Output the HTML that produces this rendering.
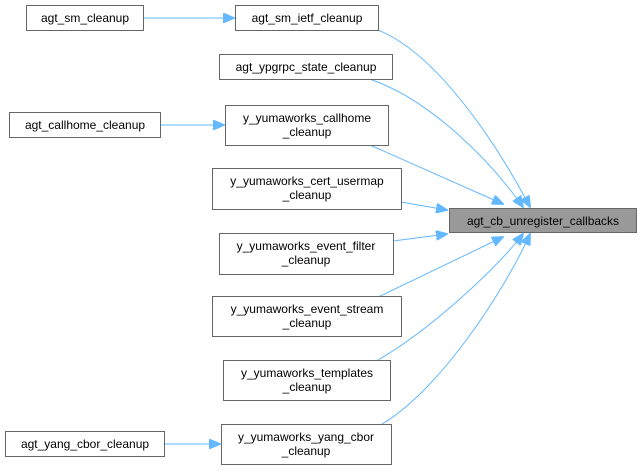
<!DOCTYPE html>
<html><head><style>body{margin:0;background:#fff}</style></head><body>
<svg width="641" height="470" xmlns="http://www.w3.org/2000/svg" font-family="Liberation Sans, sans-serif" font-size="12">
<defs><marker id="a" markerWidth="12" markerHeight="10" refX="11" refY="5" orient="auto" markerUnits="userSpaceOnUse"><path d="M0,0 L12,5 L0,10 z" fill="#63b8ff" stroke="#63b8ff"/></marker></defs>
<g fill="none" stroke="#63b8ff" stroke-width="1">
<path d="M143,18 L234,18" marker-end="url(#a)"/>
<path d="M160,125 L224,125" marker-end="url(#a)"/>
<path d="M164,444 L220,444" marker-end="url(#a)"/>
<path d="M378,30 C440,55 500,150 530,207" marker-end="url(#a)"/>
<path d="M372,80 C430,100 490,160 523,207" marker-end="url(#a)"/>
<path d="M370,145 L503,204" marker-end="url(#a)"/>
<path d="M401,202 L447,210" marker-end="url(#a)"/>
<path d="M393,241 L447,234" marker-end="url(#a)"/>
<path d="M372,300 L503,237" marker-end="url(#a)"/>
<path d="M378,360 C430,330 495,270 523,234" marker-end="url(#a)"/>
<path d="M382,424 C440,390 505,290 530,234" marker-end="url(#a)"/>
</g>
<g stroke="#666" stroke-width="1" fill="#fff">
<rect x="26.5" y="5.5" width="117" height="25"/>
<rect x="235.5" y="5.5" width="143" height="25"/>
<rect x="219.5" y="54.5" width="173" height="25"/>
<rect x="9.5" y="112.5" width="151" height="25"/>
<rect x="225.5" y="105.5" width="163" height="40"/>
<rect x="212.5" y="168.5" width="189" height="41"/>
<rect x="449.5" y="208.5" width="187" height="24" fill="#999"/>
<rect x="219.5" y="233.5" width="174" height="41"/>
<rect x="212.5" y="296.5" width="189" height="40"/>
<rect x="223.5" y="360.5" width="167" height="40"/>
<rect x="221.5" y="424.5" width="170" height="40"/>
<rect x="5.5" y="431.5" width="159" height="25"/>
</g>
<g fill="#000" text-anchor="middle">
<text x="85" y="22">agt_sm_cleanup</text>
<text x="307" y="22">agt_sm_ietf_cleanup</text>
<text x="306" y="71">agt_ypgrpc_state_cleanup</text>
<text x="85" y="129">agt_callhome_cleanup</text>
<text x="307" y="122">y_yumaworks_callhome</text><text x="307" y="136">_cleanup</text>
<text x="307" y="185">y_yumaworks_cert_usermap</text><text x="307" y="199">_cleanup</text>
<text x="543" y="225">agt_cb_unregister_callbacks</text>
<text x="306" y="250">y_yumaworks_event_filter</text><text x="306" y="264">_cleanup</text>
<text x="307" y="313">y_yumaworks_event_stream</text><text x="307" y="327">_cleanup</text>
<text x="307" y="377">y_yumaworks_templates</text><text x="307" y="391">_cleanup</text>
<text x="306" y="441">y_yumaworks_yang_cbor</text><text x="306" y="455">_cleanup</text>
<text x="85" y="448">agt_yang_cbor_cleanup</text>
</g>
</svg>
</body></html>
